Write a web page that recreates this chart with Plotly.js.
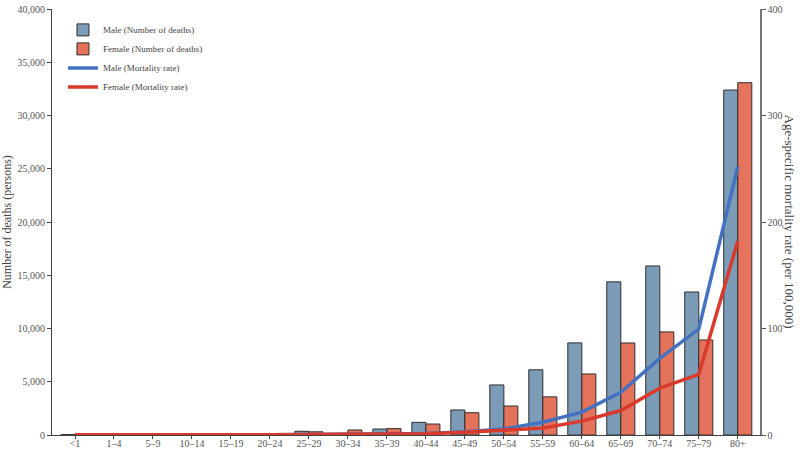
<!DOCTYPE html>
<html>
<head>
<meta charset="utf-8">
<script src="https://cdn.plot.ly/plotly-3.0.1.min.js"></script>
<style>html,body{margin:0;padding:0;background:#fff}#chart{width:800px;height:452px}</style>
</head>
<body>
<div id="chart"></div>
<script>
const ageGroups = ["<1","1–4","5–9","10–14","15–19","20–24","25–29","30–34","35–39","40–44","45–49","50–54","55–59","60–64","65–69","70–74","75–79","80+"];
const maleDeaths = [30,20,15,20,40,90,350,150,560,1190,2350,4700,6120,8650,14380,15870,13430,32390];
const femaleDeaths = [25,15,10,15,30,70,300,470,600,1030,2090,2720,3580,5730,8640,9680,8920,33080];
const maleRate = [0.3,0.1,0.1,0.1,0.2,0.3,0.5,0.4,0.8,1.5,3,5.6,12,21.5,40,72,99.5,252];
const femaleRate = [0.3,0.1,0.1,0.1,0.2,0.3,0.4,0.5,0.7,1.2,2.5,4.5,6.5,13,23,44,57,182];

const serif = "Liberation Serif, Times New Roman, serif";
const traces = [
  {type:"bar", name:"Male (Number of deaths)", x:ageGroups, y:maleDeaths,
   marker:{color:"#7b9bb7", line:{color:"#2e2e2e", width:1}}},
  {type:"bar", name:"Female (Number of deaths)", x:ageGroups, y:femaleDeaths,
   marker:{color:"#e5735b", line:{color:"#2e2e2e", width:1}}},
  {type:"scatter", mode:"lines", name:"Male (Mortality rate)", x:ageGroups, y:maleRate, yaxis:"y2",
   line:{color:"#4472c0", width:3.5}},
  {type:"scatter", mode:"lines", name:"Female (Mortality rate)", x:ageGroups, y:femaleRate, yaxis:"y2",
   line:{color:"#d93a2b", width:3.5}}
];
const layout = {
  width:800, height:452,
  margin:{l:52, r:40, t:9, b:17},
  paper_bgcolor:"#fff", plot_bgcolor:"#fff",
  font:{family:serif, color:"#555", size:10},
  barmode:"group", bargap:0.28, bargroupgap:0,
  showlegend:true,
  legend:{x:0.0155, y:0.985, xanchor:"left", yanchor:"top", bgcolor:"rgba(0,0,0,0)",
          font:{family:serif, size:9, color:"#444"}, tracegroupgap:0, itemwidth:30},
  xaxis:{type:"category", range:[-0.59,17.57], showline:true, linecolor:"#444", linewidth:1,
         ticks:"outside", ticklen:3, tickcolor:"#444", showgrid:false, zeroline:false,
         ticklabelstandoff:-4,
         tickfont:{family:serif, size:10, color:"#555"}},
  yaxis:{range:[0,40000], tickvals:[0,5000,10000,15000,20000,25000,30000,35000,40000],
         tickformat:",d", showline:true, linecolor:"#444", linewidth:1, ticks:"outside", ticklen:4,
         tickcolor:"#444", showgrid:false, zeroline:false,
         tickfont:{family:serif, size:10, color:"#555"},
         title:{text:"Number of deaths (persons)", font:{family:serif, size:12, color:"#444"}, standoff:7}},
  yaxis2:{overlaying:"y", side:"right", range:[0,400], tickvals:[0,100,200,300,400],
          showline:true, linecolor:"#777", linewidth:1.5, ticks:"outside", ticklen:4, tickcolor:"#555",
          showgrid:false, zeroline:false, tickfont:{family:serif, size:10, color:"#555"}},
  annotations:[{xref:"paper", yref:"paper", x:1.043, y:0.5, xanchor:"center", yanchor:"middle",
    text:"Age-specific mortality rate (per 100,000)", textangle:90, showarrow:false,
    font:{family:serif, size:13, color:"#444"}}]
};
Plotly.newPlot("chart", traces, layout, {displayModeBar:false, staticPlot:true});
</script>
</body>
</html>
